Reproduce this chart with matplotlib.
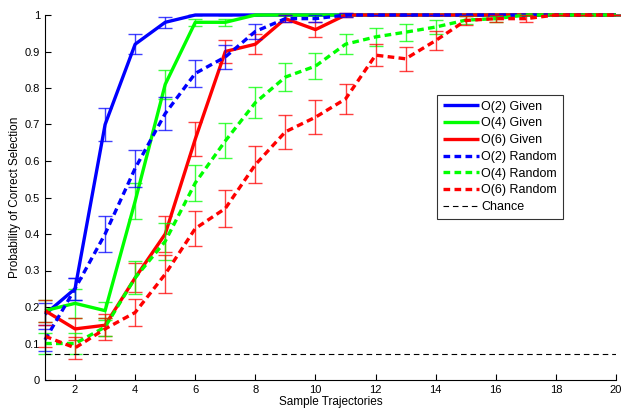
import matplotlib
matplotlib.use("Agg")
import matplotlib.pyplot as plt
import numpy as np

plt.rcParams['font.family'] = ['Liberation Sans', 'DejaVu Sans']

trajectories = list(range(1, 21))

o2_given = [0.18, 0.25, 0.70, 0.92, 0.98, 1.0, 1.0, 1.0, 1.0, 1.0, 1.0, 1.0, 1.0, 1.0, 1.0, 1.0, 1.0, 1.0, 1.0, 1.0]
o2_given_err = [0.03, 0.03, 0.045, 0.027, 0.015, 0.0, 0.0, 0.0, 0.0, 0.0, 0.0, 0.0, 0.0, 0.0, 0.0, 0.0, 0.0, 0.0, 0.0, 0.0]

o4_given = [0.19, 0.21, 0.19, 0.49, 0.81, 0.98, 0.98, 1.0, 1.0, 1.0, 1.0, 1.0, 1.0, 1.0, 1.0, 1.0, 1.0, 1.0, 1.0, 1.0]
o4_given_err = [0.03, 0.04, 0.025, 0.05, 0.04, 0.01, 0.01, 0.0, 0.0, 0.0, 0.0, 0.0, 0.0, 0.0, 0.0, 0.0, 0.0, 0.0, 0.0, 0.0]

o6_given = [0.19, 0.14, 0.15, 0.28, 0.40, 0.66, 0.90, 0.92, 0.99, 0.96, 1.0, 1.0, 1.0, 1.0, 1.0, 1.0, 1.0, 1.0, 1.0, 1.0]
o6_given_err = [0.03, 0.03, 0.03, 0.04, 0.05, 0.047, 0.031, 0.027, 0.01, 0.02, 0.005, 0.0, 0.0, 0.0, 0.0, 0.0, 0.0, 0.0, 0.0, 0.0]

o2_random = [0.11, 0.25, 0.40, 0.58, 0.73, 0.84, 0.885, 0.955, 0.99, 0.99, 1.0, 1.0, 1.0, 1.0, 1.0, 1.0, 1.0, 1.0, 1.0, 1.0]
o2_random_err = [0.03, 0.03, 0.05, 0.05, 0.045, 0.037, 0.032, 0.02, 0.01, 0.01, 0.005, 0.0, 0.0, 0.0, 0.0, 0.0, 0.0, 0.0, 0.0, 0.0]

o4_random = [0.10, 0.10, 0.145, 0.28, 0.38, 0.54, 0.655, 0.76, 0.83, 0.86, 0.92, 0.94, 0.953, 0.967, 0.986, 0.99, 1.0, 1.0, 1.0, 1.0]
o4_random_err = [0.03, 0.03, 0.025, 0.045, 0.05, 0.05, 0.048, 0.043, 0.038, 0.036, 0.027, 0.025, 0.023, 0.02, 0.012, 0.008, 0.0, 0.0, 0.0, 0.0]

o6_random = [0.12, 0.088, 0.14, 0.185, 0.29, 0.415, 0.47, 0.59, 0.68, 0.72, 0.77, 0.89, 0.88, 0.93, 0.985, 0.99, 0.99, 1.0, 1.0, 1.0]
o6_random_err = [0.03, 0.03, 0.03, 0.038, 0.053, 0.048, 0.05, 0.05, 0.046, 0.046, 0.042, 0.031, 0.033, 0.025, 0.012, 0.01, 0.01, 0.0, 0.0, 0.0]

chance = 1.0 / 14

series = [
    ("O(2) Given", o2_given, o2_given_err, "#0000ff", "-"),
    ("O(4) Given", o4_given, o4_given_err, "#00ff00", "-"),
    ("O(6) Given", o6_given, o6_given_err, "#ff0000", "-"),
    ("O(2) Random", o2_random, o2_random_err, "#0000ff", (0, (2, 1.3))),
    ("O(4) Random", o4_random, o4_random_err, "#00ff00", (0, (2, 1.3))),
    ("O(6) Random", o6_random, o6_random_err, "#ff0000", (0, (2, 1.3))),
]

fig = plt.figure(figsize=(6.21, 4.08), dpi=100)
ax = fig.add_axes([45/621, 1 - 380/408, (616-45)/621, (380-15)/408])

for label, y, err, color, ls in series:
    eb = ax.errorbar(trajectories, y, yerr=err, fmt='none', ecolor=color,
                     elinewidth=1.0, capsize=5, capthick=1.0, alpha=0.75)
    for artists in eb.lines[1:]:
        for a in artists:
            a.set_clip_on(False)
    ax.plot(trajectories, y, color=color, linestyle=ls, linewidth=2.4,
            label=label, clip_on=False, solid_capstyle='butt', dash_capstyle='butt')

ax.axhline(chance, color='black', linestyle=(0, (5, 3.5)), linewidth=0.8, label='Chance')

ax.set_xlim(1, 20)
ax.set_ylim(0, 1)
ax.set_xticks(range(2, 21, 2))
ax.set_yticks(np.arange(0, 1.01, 0.1))
ax.set_yticklabels(['0', '0.1', '0.2', '0.3', '0.4', '0.5', '0.6', '0.7', '0.8', '0.9', '1'])
ax.tick_params(direction='in', length=4, labelsize=8, width=0.8)
ax.spines['top'].set_visible(False)
ax.spines['right'].set_visible(False)
ax.set_xlabel('Sample Trajectories', fontsize=8.5, labelpad=1)
ax.set_ylabel('Probability of Correct Selection', fontsize=8.5, labelpad=3)

leg = ax.legend(loc='upper left', bbox_to_anchor=((437-45)/571, (380-95)/365),
                fontsize=9, frameon=True, fancybox=False, edgecolor='black',
                handlelength=2.9, handletextpad=0.2, labelspacing=0.38,
                borderpad=0.45, borderaxespad=0)
leg.get_frame().set_linewidth(0.8)

fig.savefig('out.png', dpi=100)
